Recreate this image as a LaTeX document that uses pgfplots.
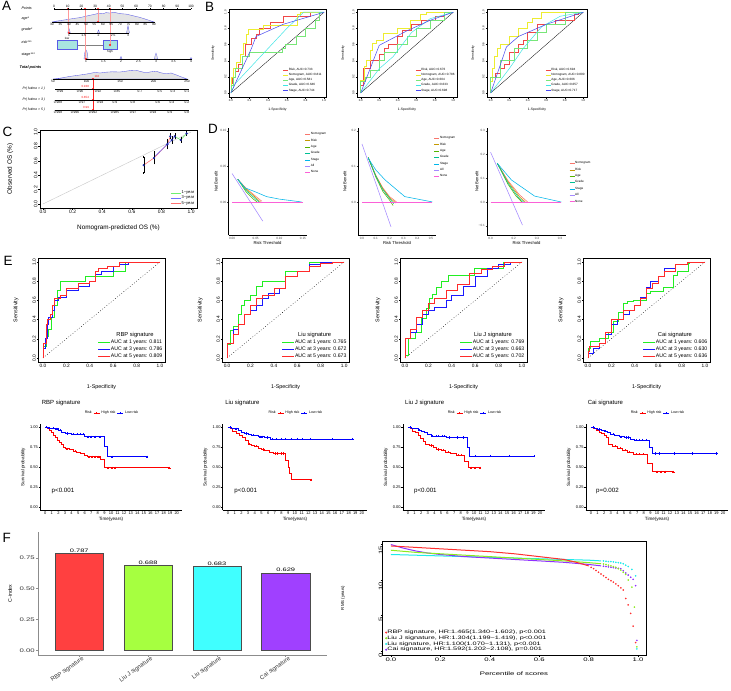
\documentclass[border=0pt]{standalone}
\usepackage{graphicx}
\usepackage{pgfplots}
\pgfplotsset{compat=1.18}
\usepackage{fontspec}
\setmainfont{Liberation Sans}
\newcommand\fs[1]{\fontsize{#1}{#1}\selectfont}
\newcommand\sx[1]{\scalebox{1.5}[1]{#1}}
\definecolor{rocR}{HTML}{F04848}
\definecolor{rocY}{HTML}{EDED30}
\definecolor{rocG}{HTML}{78E678}
\definecolor{rocC}{HTML}{40E6E6}
\definecolor{rocB}{HTML}{4848F0}
\definecolor{dNom}{HTML}{F8766D}
\definecolor{dRisk}{HTML}{C49A00}
\definecolor{dAge}{HTML}{53B400}
\definecolor{dGrade}{HTML}{00C094}
\definecolor{dStage}{HTML}{00B6EB}
\definecolor{dAll}{HTML}{A58AFF}
\definecolor{dNone}{HTML}{FB61D7}
\definecolor{eG}{HTML}{22EE22}
\definecolor{eB}{HTML}{1A1AFF}
\definecolor{eR}{HTML}{FF2A2A}
\definecolor{fR}{HTML}{FF4040}
\definecolor{fG}{HTML}{A6FF40}
\definecolor{fC}{HTML}{40FFFF}
\definecolor{fP}{HTML}{A040FF}
\definecolor{nomoblue}{HTML}{5A5AE6}
\definecolor{nomofill}{HTML}{E4E4E4}
\definecolor{boxfill}{HTML}{A8E4E0}
\definecolor{nomored}{HTML}{FF2020}
\definecolor{nomoline}{HTML}{FF9A9A}
\definecolor{kmR}{HTML}{FF0000}
\definecolor{kmB}{HTML}{0000FF}
\definecolor{rmsR}{HTML}{FF3030}
\definecolor{rmsG}{HTML}{8CEB1E}
\definecolor{rmsC}{HTML}{1EEBEB}
\definecolor{rmsP}{HTML}{9030FF}
\definecolor{cG}{HTML}{70F070}
\definecolor{cB}{HTML}{7070FF}
\definecolor{cR}{HTML}{FF7070}
\definecolor{ptblue}{HTML}{1E2AA8}

\pgfplotsset{
 every axis/.append style={scale only axis, anchor=south west, clip=false,
   /pgf/number format/assume math mode=true},
 rb/.style={tick align=outside, tick pos=left, major tick length=1.5bp,
   tick style={black,line width=0.3bp}, axis line style={line width=0.35bp},
   yticklabel style={rotate=90, anchor=south, inner sep=0.8bp},
   xticklabel style={inner sep=0.8bp}},
 unit/.style={xtick={0,0.2,0.4,0.6,0.8,1}, ytick={0,0.2,0.4,0.6,0.8,1},
   xticklabels={0.0,0.2,0.4,0.6,0.8,1.0}, yticklabels={0.0,0.2,0.4,0.6,0.8,1.0}},
 broc/.style={rb, unit, ymin=-0.05, ymax=1.04, height=88bp,
   ticklabel style={font=\fs{2.8}}, label style={font=\fs{3.4}},
   xlabel={1-Specificity}, ylabel={Sensitivity},
   xlabel style={at={(axis description cs:0.5,-0.148)}, anchor=center},
   legend style={draw=none, fill=none, font=\fs{3.1}, inner sep=0pt,
     row sep=0.8bp, nodes={inner sep=0.3bp}, anchor=south east},
   legend cell align=left,
   legend image code/.code={\draw[#1] (0bp,0bp) -- (5bp,0bp);},
   every axis plot/.append style={line width=0.5bp}},
 eroc/.style={rb, unit, xmin=-0.04, xmax=1.04, ymin=-0.04, ymax=1.04,
   width=126.4bp, height=103.7bp,
   ticklabel style={font=\fs{4.8}}, label style={font=\fs{5.4}},
   xlabel={1-Specificity}, ylabel={Sensitivity},
   xlabel style={at={(axis description cs:0.5,-0.243)}, anchor=center},
   ylabel style={at={(axis description cs:-0.176,0.5)}, anchor=center},
   legend style={at={(axis description cs:0.987,0.017)}, anchor=south east,
     draw=none, fill=none, font=\fs{5.2}, inner sep=0pt, row sep=0.9bp,
     nodes={inner sep=0.5bp}},
   legend cell align=left,
   legend image code/.code={\draw[#1] (0bp,0bp) -- (12bp,0bp);},
   every axis plot/.append style={line width=0.75bp, const plot mark right}},
 dca/.style={axis x line*=bottom, axis y line*=left, tick align=outside,
   major tick length=1.3bp, tick style={black!75, line width=0.3bp},
   axis line style={line width=0.35bp, black},
   ticklabel style={font=\fs{3.1}, text=black!70, inner sep=0.7bp},
   label style={font=\fs{4.2}}, xlabel={Risk Threshold}, ylabel={Net Benefit},
   xlabel style={at={(axis description cs:0.5,-0.078)}, anchor=center},
   height=107bp,
   legend style={anchor=north west, draw=none, fill=none, font=\fs{3.1},
     inner sep=0pt, row sep=2.1bp, nodes={inner sep=0.3bp}},
   legend cell align=left,
   legend image code/.code={\draw[#1] (0bp,0bp)--(5bp,0bp);},
   every axis plot/.append style={line width=0.55bp}},
 km/.style={axis x line*=bottom, axis y line*=left, tick align=outside,
   major tick length=1.3bp, tick style={black, line width=0.3bp},
   axis line style={line width=0.35bp, black},
   xmin=-0.8, xmax=20.8, ymin=-0.04, ymax=1.04, height=86bp,
   xtick={0,1,...,20}, ytick={0,0.25,0.5,0.75,1},
   yticklabels={0.00,0.25,0.50,0.75,1.00},
   ticklabel style={font=\fs{4}, inner sep=0.6bp}, label style={font=\fs{4.6}},
   xlabel={Time(years)}, ylabel={Survival probability},
   xlabel style={at={(axis description cs:0.5,-0.105)}, anchor=center},
   ylabel style={at={(axis description cs:-0.118,0.5)}, anchor=center},
   legend columns=-1,
   legend style={at={(axis description cs:0.5,1.128)}, anchor=center,
     draw=none, fill=none, font=\fs{3.6}, inner sep=0pt, column sep=1bp,
     nodes={inner sep=0.5bp}},
   legend image code/.code={\draw[#1] (0bp,0bp)--(6bp,0bp); \draw[#1, line width=0.35bp] (3bp,-1.2bp)--(3bp,1.2bp);}},
 nomo/.style={height=1bp, ymin=0, ymax=1, hide y axis, axis x line*=bottom,
   axis line style={line width=0.3bp,-}, tick align=outside,
   major tick length=1bp, tick style={line width=0.25bp, black},
   ticklabel style={font=\fs{3.3}, inner sep=0.5bp}},
}

\begin{document}
\begin{tikzpicture}
\useasboundingbox (0,0) rectangle (731bp,-691bp);
\fill[white] (0,0) rectangle (731bp,-691bp);

% ---------------- panel letters
\foreach \l/\x/\y in {A/2/1.5, B/205/2.5, C/2.5/126.5, D/208/124.5, E/3.5/256.5, F/2.5/533}
  \node[anchor=north west, inner sep=0pt, font=\fs{13.5}] at (\x bp,-\y bp) {\l};

% ================= PANEL A : nomogram =================
\begin{axis}[at={(0bp,0bp)}, anchor=north west, width=210bp, height=120bp,
  xmin=0, xmax=210, ymin=0, ymax=120, y dir=reverse, hide axis]
\addplot[draw=nomoblue, fill=nomofill, line width=0.35bp] coordinates {(52,22)(56,21.2)(62,20.3)(68,19.4)(74,18.4)(80,17.6)(85,16.4)(90,15.3)(95,14.2)(99,13.2)(103,13.8)(106,12.6)(110,13.1)(114,12.2)(118,13.2)(122,13.8)(126,14.1)(130,15)(135,16.2)(140,17.4)(145,19)(150,20.6)(154,22)} --cycle;
\addplot[draw=nomoblue, fill=nomofill, line width=0.35bp] coordinates {(53,79)(60,78.2)(70,76.4)(80,75)(88,73.8)(95,72.4)(100,73)(106,72.2)(112,71.8)(120,72)(126,71.2)(131,70.4)(136,70.2)(141,71.6)(146,72.8)(151,71.8)(156,71.2)(161,72.8)(166,73.8)(171,73)(176,74.8)(181,76.8)(187,79)} --cycle;
\addplot[draw=nomoblue, fill=nomofill, line width=0.3bp] coordinates {(67.8,33)(68.3,30.5)(69,28.5)(69.7,30.5)(70.2,33)} --cycle;
\addplot[draw=nomoblue, fill=nomofill, line width=0.3bp] coordinates {(97.5,33)(98,31.2)(98.5,30)(99,31.2)(99.5,33)} --cycle;
\addplot[draw=nomoblue, fill=nomofill, line width=0.3bp] coordinates {(126.6,33)(127.2,29.5)(128,25.5)(128.8,29.5)(129.4,33)} --cycle;
\addplot[draw=nomoblue, fill=nomofill, line width=0.3bp] coordinates {(84,59)(84.4,55)(85.1,51.5)(86,50)(86.9,51.5)(87.6,55)(88,59)} --cycle;
\addplot[draw=nomoblue, fill=nomofill, line width=0.3bp] coordinates {(120,59)(120.5,57.3)(121,56.5)(121.5,57.3)(122,59)} --cycle;
\addplot[draw=nomoblue, fill=nomofill, line width=0.3bp] coordinates {(154.5,59)(155,56)(156,53)(157,56)(157.5,59)} --cycle;
\addplot[draw=nomoblue, fill=nomofill, line width=0.3bp] coordinates {(190,59)(190.5,58)(191,57.6)(191.5,58)(192,59)} --cycle;
\addplot[gray, line width=0.35bp] coordinates {(77,45)(103,45)};
\addplot[draw=nomoblue, fill=boxfill, line width=0.4bp] coordinates {(57,40.5)(77,40.5)(77,49.5)(57,49.5)} --cycle;
\addplot[draw=nomoblue, fill=boxfill, line width=0.4bp] coordinates {(103,40.5)(117,40.5)(117,49.5)(103,49.5)} --cycle;
\addplot[nomoline, line width=0.35bp] coordinates {(68,9)(68,33)};
\addplot[nomoline, line width=0.35bp] coordinates {(85,9)(85,59)};
\addplot[nomoline, line width=0.35bp] coordinates {(98,9)(98,22)};
\addplot[nomoline, line width=0.35bp] coordinates {(110,9)(110,45)};
\addplot[nomored, line width=0.45bp] coordinates {(93,79)(93,110)};
\addplot[nomored, only marks, mark=*, mark size=0.9bp] coordinates {(68,9)(85,9)(98,9)(110,9)(98,22)(69,33)(110,45)(86,59)(93,79)(93,89)(93,100)(93,110)};
\node[font=\fs{3}] at (axis cs:67,38) {low};
\node[font=\fs{3}] at (axis cs:110,52) {high};
\node[font=\fs{3}, text=nomored] at (axis cs:97,76.2) {110};
\node[font=\fs{3}, text=nomored, anchor=east] at (axis cs:92.5,86.5) {0.938};
\node[font=\fs{3}, text=nomored, anchor=east] at (axis cs:92.5,97.5) {0.854};
\node[font=\fs{3}, text=nomored, anchor=east] at (axis cs:92.5,107.5) {0.99};
\end{axis}
\node[anchor=west, font=\fs{3.7}\itshape] at (18bp,-8bp) {Points};
\node[anchor=west, font=\fs{3.7}\itshape] at (18bp,-19bp) {age*};
\node[anchor=west, font=\fs{3.7}\itshape] at (18bp,-30bp) {grade*};
\node[anchor=west, font=\fs{3.7}\itshape] at (18bp,-42bp) {risk***};
\node[anchor=west, font=\fs{3.7}\itshape] at (18bp,-55bp) {stage***};
\node[anchor=west, font=\fs{3.9}\bfseries\itshape] at (16bp,-67bp) {Total points};
\node[anchor=west, font=\fs{3.4}\itshape] at (19bp,-89bp) {Pr( futime > 1 )};
\node[anchor=west, font=\fs{3.4}\itshape] at (19bp,-100bp) {Pr( futime > 3 )};
\node[anchor=west, font=\fs{3.4}\itshape] at (19bp,-110bp) {Pr( futime > 5 )};
\begin{axis}[nomo, axis x line*=top, anchor=north west, at={(54bp,-9bp)}, width=137bp,
  xmin=0, xmax=100, xtick={0,10,...,100}]
\end{axis}
\begin{axis}[nomo, at={(52bp,-22bp)}, width=102bp, xmin=30, xmax=90, xtick={30,35,...,90}]
\end{axis}
\begin{axis}[nomo, at={(69bp,-33bp)}, width=59bp, xmin=1, xmax=3, xtick={1,1.5,2,2.5,3}]
\end{axis}
\begin{axis}[nomo, at={(86bp,-59bp)}, width=105bp, xmin=1, xmax=4, xtick={1,1.5,2,2.5,3,3.5,4}]
\end{axis}
\begin{axis}[nomo, at={(53bp,-79bp)}, width=134bp, xmin=50, xmax=250, xtick={50,100,150,200,250}]
\end{axis}
\begin{axis}[nomo, at={(55bp,-89bp)}, width=134bp, xmin=55, xmax=189,
  xtick={60,80,98,117,140,160,173,187}, xticklabels={0.99,0.96,0.92,0.85,0.7,0.5,0.3,0.1}]
\end{axis}
\begin{axis}[nomo, at={(55bp,-100bp)}, width=134bp, xmin=55, xmax=189,
  xtick={58,82,100,115,133,158,172,187}, xticklabels={0.988,0.97,0.94,0.9,0.8,0.6,0.4,0.2}]
\end{axis}
\begin{axis}[nomo, at={(55bp,-110bp)}, width=134bp, xmin=55, xmax=189,
  xtick={58,75,93,115,133,153,170,187}, xticklabels={0.998,0.996,0.992,0.985,0.97,0.94,0.9,0.8}]
\end{axis}

% ================= PANEL B : ROC =================
\begin{axis}[broc, at={(229bp,-97bp)}, width=97bp, xmin=-0.02, xmax=1.02,
  ylabel style={at={(axis description cs:-0.165,0.5)}, anchor=center},
  legend style={at={(axis description cs:0.96,0.045)}}]
\addplot[black, line width=0.3bp, forget plot] coordinates {(0,0)(1,1)};
\addplot[rocR, const plot mark right] coordinates {(0,0)(0.02,0.12)(0.05,0.2)(0.08,0.27)(0.12,0.35)(0.15,0.45)(0.22,0.6)(0.27,0.68)(0.3,0.73)(0.42,0.8)(0.56,0.88)(0.85,0.95)(0.93,1)(1,1)};
\addlegendentry{Risk, AUC=0.733}
\addplot[rocY, const plot mark right] coordinates {(0,0)(0.025,0.19)(0.06,0.3)(0.1,0.38)(0.13,0.48)(0.16,0.61)(0.19,0.73)(0.2,0.79)(0.35,0.79)(0.37,0.84)(0.71,0.84)(0.74,0.98)(0.74,1)(1,1)};
\addlegendentry{Nomogram, AUC=0.811}
\addplot[rocG, const plot mark right] coordinates {(0,0)(0.03,0.1)(0.05,0.2)(0.12,0.3)(0.2,0.45)(0.3,0.5)(0.55,0.5)(0.58,0.55)(0.7,0.6)(0.8,0.7)(0.9,0.8)(0.95,0.9)(1,1)};
\addlegendentry{Age, AUC=0.581}
\addplot[rocC] coordinates {(0,0)(0.05,0.12)(0.6,0.8)(0.78,1)(1,1)};
\addlegendentry{Grade, AUC=0.646}
\addplot[rocB] coordinates {(0,0)(0.22,0.55)(0.27,0.7)(0.56,0.85)(1,1)};
\addlegendentry{Stage, AUC=0.744}
\end{axis}

\begin{axis}[broc, at={(357bp,-97bp)}, width=100bp, xmin=-0.04, xmax=1.04,
  ylabel style={at={(axis description cs:-0.14,0.5)}, anchor=center},
  legend style={at={(axis description cs:0.98,0.045)}}]
\addplot[black, line width=0.3bp, forget plot] coordinates {(0,0)(1,1)};
\addplot[rocR, const plot mark right] coordinates {(0,0)(0.03,0.1)(0.1,0.3)(0.2,0.4)(0.25,0.48)(0.3,0.55)(0.4,0.6)(0.45,0.7)(0.55,0.78)(0.65,0.85)(0.8,0.9)(0.9,0.95)(1,1)};
\addlegendentry{Risk, AUC=0.676}
\addplot[rocY, const plot mark right] coordinates {(0,0)(0.04,0.16)(0.06,0.33)(0.1,0.41)(0.13,0.53)(0.17,0.61)(0.24,0.65)(0.39,0.74)(0.53,0.8)(0.64,0.9)(0.71,0.98)(0.75,1)(1,1)};
\addlegendentry{Nomogram, AUC=0.786}
\addplot[rocG, const plot mark right] coordinates {(0,0)(0.05,0.15)(0.1,0.2)(0.2,0.28)(0.25,0.4)(0.4,0.5)(0.5,0.6)(0.6,0.7)(0.75,0.8)(0.9,0.9)(1,1)};
\addlegendentry{Age, AUC=0.604}
\addplot[rocC] coordinates {(0,0)(0.2,0.3)(0.35,0.45)(0.55,0.75)(0.75,0.92)(1,1)};
\addlegendentry{Grade, AUC=0.633}
\addplot[rocB] coordinates {(0,0)(0.2,0.59)(0.5,0.77)(0.75,0.9)(1,1)};
\addlegendentry{Stage, AUC=0.698}
\end{axis}

\begin{axis}[broc, at={(487bp,-97bp)}, width=100bp, xmin=-0.04, xmax=1.04,
  ylabel style={at={(axis description cs:-0.14,0.5)}, anchor=center},
  legend style={at={(axis description cs:0.98,0.045)}}]
\addplot[black, line width=0.3bp, forget plot] coordinates {(0,0)(1,1)};
\addplot[rocR, const plot mark right] coordinates {(0,0)(0.05,0.2)(0.1,0.25)(0.15,0.3)(0.2,0.35)(0.3,0.5)(0.35,0.6)(0.4,0.65)(0.5,0.75)(0.7,0.85)(0.9,0.9)(0.95,0.97)(1,1)};
\addlegendentry{Risk, AUC=0.694}
\addplot[rocY, const plot mark right] coordinates {(0,0)(0.02,0.15)(0.04,0.3)(0.07,0.45)(0.1,0.55)(0.2,0.6)(0.3,0.7)(0.4,0.8)(0.45,0.88)(0.55,0.93)(0.65,1)(1,1)};
\addlegendentry{Nomogram, AUC=0.800}
\addplot[rocG, const plot mark right] coordinates {(0,0)(0.1,0.2)(0.25,0.4)(0.4,0.55)(0.5,0.65)(0.6,0.75)(0.8,0.85)(1,1)};
\addlegendentry{Age, AUC=0.606}
\addplot[rocC] coordinates {(0,0)(0.2,0.3)(0.35,0.55)(0.55,0.82)(0.75,0.95)(1,1)};
\addlegendentry{Grade, AUC=0.657}
\addplot[rocB] coordinates {(0,0)(0.17,0.57)(0.3,0.7)(0.6,0.85)(1,1)};
\addlegendentry{Stage, AUC=0.717}
\end{axis}

% ================= PANEL C : calibration =================
\begin{axis}[rb, unit, at={(40bp,-208bp)}, width=157bp, height=78bp,
  xmin=-0.02, xmax=1.04, ymin=-0.056, ymax=1.028,
  ticklabel style={font=\fs{5}}, label style={font=\fs{6.4}},
  xlabel={Nomogram-predicted OS (\%)}, ylabel={Observed OS (\%)},
  xlabel style={at={(axis description cs:0.5,-0.256)}, anchor=center},
  ylabel style={at={(axis description cs:-0.19,0.5)}, anchor=center},
  legend style={at={(axis description cs:0.985,0.025)}, anchor=south east,
    draw=none, fill=none, font=\fs{4.1}, inner sep=0pt, row sep=0.3bp,
    nodes={inner sep=0.3bp}},
  legend cell align=left,
  legend image code/.code={\draw[#1] (0bp,0bp)--(10bp,0bp);}]
\addplot[black!22, line width=0.4bp, forget plot] coordinates {(0,0)(1,1)};
\addlegendimage{cG, line width=0.6bp}\addlegendentry{1−year}
\addlegendimage{cB, line width=0.6bp}\addlegendentry{3−year}
\addlegendimage{cR, line width=0.6bp}\addlegendentry{5−year}
\addplot[cR, line width=0.6bp, forget plot] coordinates {(0.68,0.54)(0.75,0.64)(0.84,0.83)(0.86,0.94)};
\addplot[cB, line width=0.6bp, forget plot] coordinates {(0.75,0.65)(0.84,0.83)(0.87,0.89)(0.89,0.94)};
\addplot[cG, line width=0.6bp, forget plot] coordinates {(0.89,0.94)(0.93,0.89)(0.97,0.98)};
\addplot[ptblue, only marks, mark=*, mark size=0.9bp, forget plot,
  error bars/.cd, y dir=both, y explicit,
  error bar style={black, line width=0.35bp}, error mark options={black, mark size=0.8bp}]
  table[x=x, y=y, y error=e] {
x y e
0.68 0.54 0.11
0.75 0.64 0.08
0.84 0.83 0.06
0.86 0.94 0.03
0.87 0.89 0.04
0.89 0.94 0.03
0.93 0.89 0.03
0.97 0.98 0.02
};
\end{axis}

% ================= PANEL D : DCA =================
\begin{axis}[dca, at={(228.5bp,-235bp)}, width=78bp,
  xmin=-0.0075, xmax=0.1575, ymin=-0.0465, ymax=0.104,
  xtick={0,0.05,0.1,0.15}, xticklabels={0.00,0.05,0.10,0.15},
  ytick={0,0.05,0.1}, yticklabels={0.00,0.05,0.10},
  ylabel style={at={(axis description cs:-0.16,0.5)}, anchor=center},
  legend style={at={(axis description cs:0.98,0.963)}}]
\addplot[dNom] coordinates {(0.012,0.032)(0.03,0.019)(0.05,0.008)(0.063,0.001)};
\addplot[dRisk] coordinates {(0.012,0.032)(0.03,0.018)(0.05,0.006)(0.06,0)};
\addplot[dAge] coordinates {(0.012,0.032)(0.03,0.014)(0.045,0.004)(0.053,0)};
\addplot[dGrade] coordinates {(0.012,0.032)(0.03,0.016)(0.05,0.004)(0.057,0)};
\addplot[dStage] coordinates {(0.012,0.032)(0.027,0.020)(0.05,0.014)(0.073,0.0075)(0.1,0.004)(0.147,0)};
\addplot[dAll] coordinates {(0,0.040)(0.065,-0.027)};
\addplot[dNone] coordinates {(0,0)(0.15,0)};
\legend{Nomogram,Risk,Age,Grade,Stage,All,None}
\end{axis}

\begin{axis}[dca, at={(358bp,-235bp)}, width=78bp,
  xmin=-0.029, xmax=0.536, ymin=-0.093, ymax=0.208,
  xtick={0,0.1,0.2,0.3,0.4,0.5}, xticklabels={0.0,0.1,0.2,0.3,0.4,0.5},
  ytick={0,0.1,0.2}, yticklabels={0.0,0.1,0.2},
  ylabel style={at={(axis description cs:-0.167,0.5)}, anchor=center},
  legend style={at={(axis description cs:0.974,0.925)}}]
\addplot[dNom] coordinates {(0.045,0.125)(0.1,0.075)(0.15,0.04)(0.2,0.015)(0.25,0)};
\addplot[dRisk] coordinates {(0.045,0.125)(0.1,0.074)(0.15,0.038)(0.2,0.012)(0.245,-0.003)};
\addplot[dAge] coordinates {(0.045,0.125)(0.1,0.07)(0.15,0.03)(0.2,0.005)(0.225,-0.01)};
\addplot[dGrade] coordinates {(0.045,0.125)(0.1,0.073)(0.15,0.035)(0.2,0.01)(0.23,-0.005)};
\addplot[dStage] coordinates {(0.045,0.123)(0.1,0.09)(0.167,0.062)(0.31,0.015)(0.51,0)};
\addplot[dAll] coordinates {(0,0.163)(0.21,-0.07)};
\addplot[dNone] coordinates {(0,0)(0.51,0)};
\legend{Nomogram,Risk,Age,Grade,Stage,All,None}
\end{axis}

\begin{axis}[dca, at={(487bp,-235bp)}, width=79bp,
  xmin=-0.031, xmax=0.651, ymin=-0.139, ymax=0.312,
  xtick={0,0.2,0.4,0.6}, xticklabels={0.0,0.2,0.4,0.6},
  ytick={-0.1,0,0.1,0.2,0.3}, yticklabels={−0.1,0.0,0.1,0.2,0.3},
  ylabel style={at={(axis description cs:-0.127,0.5)}, anchor=center},
  legend style={at={(axis description cs:1.04,0.69)}}]
\addplot[dNom] coordinates {(0.058,0.163)(0.15,0.09)(0.25,0.03)(0.32,0)};
\addplot[dRisk] coordinates {(0.058,0.163)(0.15,0.085)(0.25,0.022)(0.30,0)};
\addplot[dAge] coordinates {(0.058,0.163)(0.15,0.075)(0.22,0.025)(0.27,0)};
\addplot[dGrade] coordinates {(0.058,0.163)(0.15,0.08)(0.24,0.02)(0.285,0)};
\addplot[dStage] coordinates {(0.058,0.163)(0.18,0.093)(0.38,0.025)(0.61,0)};
\addplot[dAll] coordinates {(0,0.21)(0.275,-0.097)};
\addplot[dNone] coordinates {(0,0)(0.61,0)};
\legend{Nomogram,Risk,Age,Grade,Stage,All,None}
\end{axis}

% ================= PANEL E : ROC of signatures =================
\begin{axis}[eroc, at={(38.3bp,-361.8bp)}]
\addplot[black, dotted, sharp plot, line width=0.4bp, forget plot] coordinates {(0,0)(1,1)};
\addplot[eG] coordinates {(0,0)(0.03,0.12)(0.05,0.22)(0.07,0.3)(0.1,0.42)(0.12,0.55)(0.15,0.7)(0.2,0.8)(0.36,0.8)(0.37,0.85)(0.6,0.85)(0.61,0.9)(0.7,0.9)(0.7,0.97)(0.73,1)(1,1)};
\addlegendentry{AUC at 1 years: 0.811}
\addplot[eB] coordinates {(0,0)(0.02,0.1)(0.04,0.2)(0.05,0.35)(0.08,0.42)(0.1,0.5)(0.13,0.6)(0.2,0.63)(0.3,0.7)(0.4,0.75)(0.45,0.8)(0.5,0.87)(0.6,0.9)(0.65,0.95)(0.73,0.97)(0.73,1)(1,1)};
\addlegendentry{AUC at 3 years: 0.786}
\addplot[eR] coordinates {(0,0)(0.03,0.15)(0.04,0.35)(0.06,0.4)(0.08,0.45)(0.1,0.55)(0.12,0.62)(0.15,0.62)(0.2,0.65)(0.3,0.72)(0.4,0.78)(0.45,0.8)(0.47,0.9)(0.55,0.93)(0.65,0.95)(0.68,1)(1,1)};
\addlegendentry{AUC at 5 years: 0.809}
\node[font=\fs{5.8}] at (axis description cs:0.765,0.255) {RBP signature};
\end{axis}

\begin{axis}[eroc, at={(222.4bp,-361.8bp)}]
\addplot[black, dotted, sharp plot, line width=0.4bp, forget plot] coordinates {(0,0)(1,1)};
\addplot[eG] coordinates {(0,0)(0.03,0.14)(0.05,0.29)(0.1,0.33)(0.12,0.45)(0.15,0.55)(0.2,0.6)(0.25,0.65)(0.3,0.75)(0.4,0.8)(0.5,0.8)(0.52,0.9)(0.7,0.9)(0.72,1)(1,1)};
\addlegendentry{AUC at 1 years: 0.765}
\addplot[eB] coordinates {(0,0)(0.05,0.15)(0.1,0.3)(0.15,0.35)(0.2,0.45)(0.25,0.5)(0.3,0.55)(0.35,0.62)(0.45,0.67)(0.5,0.72)(0.6,0.85)(0.7,0.9)(0.8,0.97)(0.85,1)(1,1)};
\addlegendentry{AUC at 3 years: 0.672}
\addplot[eR] coordinates {(0,0)(0.05,0.15)(0.1,0.25)(0.15,0.35)(0.2,0.45)(0.25,0.55)(0.3,0.62)(0.4,0.65)(0.5,0.72)(0.6,0.85)(0.7,0.9)(0.8,0.95)(0.9,0.98)(1,1)};
\addlegendentry{AUC at 5 years: 0.673}
\node[font=\fs{5.8}] at (axis description cs:0.73,0.255) {Liu signature};
\end{axis}

\begin{axis}[eroc, at={(400.3bp,-361.8bp)}]
\addplot[black, dotted, sharp plot, line width=0.4bp, forget plot] coordinates {(0,0)(1,1)};
\addplot[eG] coordinates {(0,0)(0.03,0.03)(0.09,0.2)(0.14,0.27)(0.18,0.41)(0.21,0.52)(0.23,0.62)(0.27,0.66)(0.31,0.73)(0.37,0.8)(0.42,0.86)(0.59,0.86)(0.62,0.93)(0.84,0.93)(0.84,1)(1,1)};
\addlegendentry{AUC at 1 years: 0.769}
\addplot[eB] coordinates {(0,0)(0.05,0.2)(0.1,0.27)(0.15,0.35)(0.2,0.45)(0.25,0.5)(0.35,0.53)(0.4,0.6)(0.5,0.65)(0.6,0.75)(0.7,0.85)(0.8,0.93)(0.9,0.97)(1,1)};
\addlegendentry{AUC at 3 years: 0.663}
\addplot[eR] coordinates {(0,0)(0.05,0.2)(0.1,0.3)(0.15,0.42)(0.2,0.5)(0.25,0.57)(0.35,0.62)(0.45,0.7)(0.55,0.77)(0.65,0.88)(0.75,0.92)(0.85,0.95)(1,1)};
\addlegendentry{AUC at 5 years: 0.702}
\node[font=\fs{5.8}] at (axis description cs:0.733,0.255) {Liu J signature};
\end{axis}

\begin{axis}[eroc, at={(583.3bp,-361.8bp)}]
\addplot[black, dotted, sharp plot, line width=0.4bp, forget plot] coordinates {(0,0)(1,1)};
\addplot[eG] coordinates {(0,0)(0.02,0.1)(0.1,0.17)(0.17,0.2)(0.22,0.27)(0.26,0.38)(0.3,0.48)(0.34,0.57)(0.39,0.59)(0.5,0.6)(0.53,0.67)(0.64,0.69)(0.73,0.74)(0.76,0.86)(0.86,0.9)(0.87,0.98)(0.87,1)(1,1)};
\addlegendentry{AUC at 1 years: 0.606}
\addplot[eB] coordinates {(0,0)(0.05,0.05)(0.1,0.1)(0.15,0.15)(0.2,0.25)(0.25,0.35)(0.3,0.4)(0.35,0.45)(0.4,0.5)(0.45,0.55)(0.5,0.63)(0.53,0.73)(0.6,0.8)(0.65,0.85)(0.75,0.93)(0.85,0.97)(0.9,1)(1,1)};
\addlegendentry{AUC at 3 years: 0.630}
\addplot[eR] coordinates {(0,0)(0.01,0.07)(0.1,0.12)(0.15,0.15)(0.2,0.27)(0.3,0.4)(0.4,0.5)(0.45,0.55)(0.5,0.62)(0.55,0.72)(0.6,0.78)(0.65,0.85)(0.75,0.9)(0.85,0.97)(0.9,1)(1,1)};
\addlegendentry{AUC at 5 years: 0.636}
\node[font=\fs{5.8}] at (axis description cs:0.725,0.255) {Cai signature};
\end{axis}

% ================= PANEL E : Kaplan-Meier =================
\begin{axis}[km, at={(40bp,-510bp)}, width=142bp]
\addlegendimage{empty legend}\addlegendentry{Risk}
\addlegendimage{kmR, line width=0.7bp}\addlegendentry{High risk}
\addlegendimage{kmB, line width=0.7bp}\addlegendentry{Low risk}
\addplot[kmR, line width=0.7bp, const plot, forget plot] coordinates {(0,1)(0.3,0.98)(0.6,0.96)(0.9,0.93)(1.2,0.90)(1.5,0.87)(1.8,0.84)(2.1,0.81)(2.5,0.78)(2.8,0.75)(3.1,0.73)(3.6,0.72)(4.2,0.70)(4.8,0.68)(5.4,0.67)(6,0.65)(6.4,0.63)(8.4,0.59)(9.0,0.49)(18.9,0.49)};
\addplot[kmB, line width=0.7bp, const plot, forget plot] coordinates {(0,1)(0.5,0.99)(1,0.985)(1.5,0.98)(2,0.96)(2.5,0.94)(3,0.92)(4,0.91)(6,0.88)(9.0,0.76)(9.4,0.63)(15.5,0.63)};
\addplot[kmR, only marks, mark=+, mark size=1.1bp, mark options={line width=0.3bp}, forget plot] coordinates {(3.3,0.73)(4.5,0.70)(6.7,0.63)(7.1,0.63)(7.6,0.63)(8.1,0.63)(9.6,0.49)(10.1,0.49)(10.6,0.49)(18.9,0.49)};
\addplot[kmB, only marks, mark=+, mark size=1.1bp, mark options={line width=0.3bp}, forget plot] coordinates {(0.2,1)(0.6,0.99)(1.2,0.985)(1.7,0.98)(2.2,0.96)(3.3,0.92)(4.3,0.91)(4.8,0.91)(5.3,0.91)(5.8,0.91)(6.5,0.88)(7.0,0.88)(7.6,0.88)(8.3,0.88)(10.2,0.63)(15.5,0.63)};
\node[anchor=west, font=\fs{6}] at (axis description cs:-0.012,1.244) {RBP signature};
\node[anchor=west, font=\fs{6.2}] at (axis cs:0.45,0.2) {p<0.001};
\end{axis}

\begin{axis}[km, at={(222.6bp,-510bp)}, width=144.7bp]
\addlegendimage{empty legend}\addlegendentry{Risk}
\addlegendimage{kmR, line width=0.7bp}\addlegendentry{High risk}
\addlegendimage{kmB, line width=0.7bp}\addlegendentry{Low risk}
\addplot[kmR, line width=0.7bp, const plot, forget plot] coordinates {(0,1)(0.3,0.98)(0.7,0.95)(1.2,0.92)(1.7,0.90)(2.2,0.87)(2.6,0.83)(3,0.79)(3.5,0.77)(4,0.76)(4.5,0.74)(5,0.72)(5.5,0.71)(6.2,0.69)(6.8,0.67)(8.6,0.58)(9.0,0.50)(9.2,0.42)(9.5,0.34)(12.4,0.34)};
\addplot[kmB, line width=0.7bp, const plot, forget plot] coordinates {(0,1)(0.5,0.99)(1,0.98)(1.5,0.96)(2,0.94)(2.5,0.92)(3,0.91)(3.5,0.90)(4.5,0.88)(5.5,0.87)(6.3,0.85)(18.6,0.85)};
\addplot[kmR, only marks, mark=+, mark size=1.1bp, mark options={line width=0.3bp}, forget plot] coordinates {(3.2,0.79)(4.2,0.76)(5.2,0.72)(7.0,0.67)(7.4,0.67)(7.9,0.67)(8.3,0.67)(12.4,0.34)};
\addplot[kmB, only marks, mark=+, mark size=1.1bp, mark options={line width=0.3bp}, forget plot] coordinates {(0.3,1)(1.2,0.98)(2.7,0.92)(3.8,0.90)(4.8,0.88)(5.1,0.88)(5.8,0.87)(6.6,0.85)(7.2,0.85)(7.9,0.85)(8.6,0.85)(9.4,0.85)(10.3,0.85)(11,0.85)(12.3,0.85)(15.5,0.85)(18.6,0.85)};
\node[anchor=west, font=\fs{6}] at (axis description cs:-0.006,1.244) {Liu signature};
\node[anchor=west, font=\fs{6.2}] at (axis cs:0.45,0.2) {p<0.001};
\end{axis}

\begin{axis}[km, at={(402.7bp,-510bp)}, width=142.6bp]
\addlegendimage{empty legend}\addlegendentry{Risk}
\addlegendimage{kmR, line width=0.7bp}\addlegendentry{High risk}
\addlegendimage{kmB, line width=0.7bp}\addlegendentry{Low risk}
\addplot[kmR, line width=0.7bp, const plot, forget plot] coordinates {(0,1)(0.3,0.98)(0.7,0.95)(1.1,0.93)(1.5,0.90)(1.9,0.86)(2.3,0.82)(2.7,0.79)(3.2,0.77)(3.8,0.75)(4.3,0.72)(5,0.71)(5.6,0.69)(6.4,0.67)(7.3,0.65)(8.6,0.57)(9.2,0.49)(10.9,0.49)};
\addplot[kmB, line width=0.7bp, const plot, forget plot] coordinates {(0,1)(0.5,0.99)(1,0.98)(1.5,0.96)(2,0.95)(2.5,0.93)(3,0.91)(3.5,0.89)(5.8,0.87)(9.0,0.75)(9.3,0.64)(19.1,0.64)};
\addplot[kmR, only marks, mark=+, mark size=1.1bp, mark options={line width=0.3bp}, forget plot] coordinates {(3.5,0.77)(4.6,0.72)(5.3,0.71)(6.1,0.69)(7.6,0.65)(8.1,0.65)(9.6,0.49)(10.2,0.49)(10.9,0.49)};
\addplot[kmB, only marks, mark=+, mark size=1.1bp, mark options={line width=0.3bp}, forget plot] coordinates {(0.4,1)(1.7,0.96)(3.7,0.89)(4.2,0.89)(4.6,0.89)(5.1,0.89)(5.5,0.89)(6.3,0.87)(7.5,0.87)(8.3,0.87)(10.2,0.64)(12.5,0.64)(15.3,0.64)(19.1,0.64)};
\node[anchor=west, font=\fs{6}] at (axis description cs:-0.007,1.244) {Liu J signature};
\node[anchor=west, font=\fs{6.2}] at (axis cs:0.4,0.2) {p<0.001};
\end{axis}

\begin{axis}[km, at={(585.7bp,-510bp)}, width=142.6bp]
\addlegendimage{empty legend}\addlegendentry{Risk}
\addlegendimage{kmR, line width=0.7bp}\addlegendentry{High risk}
\addlegendimage{kmB, line width=0.7bp}\addlegendentry{Low risk}
\addplot[kmR, line width=0.7bp, const plot, forget plot] coordinates {(0,1)(0.4,0.98)(0.8,0.96)(1.2,0.94)(1.6,0.92)(2.0,0.90)(2.4,0.87)(2.7,0.78)(3.3,0.76)(4,0.74)(4.8,0.71)(5.5,0.69)(6.4,0.66)(8.5,0.55)(9.3,0.44)(12.5,0.44)};
\addplot[kmB, line width=0.7bp, const plot, forget plot] coordinates {(0,1)(0.5,0.99)(1,0.97)(1.5,0.96)(2,0.95)(2.5,0.93)(3,0.91)(3.6,0.90)(4.3,0.88)(5,0.87)(6,0.85)(6.5,0.84)(8.9,0.75)(9.3,0.67)(19,0.67)};
\addplot[kmR, only marks, mark=+, mark size=1.1bp, mark options={line width=0.3bp}, forget plot] coordinates {(3.6,0.76)(4.4,0.74)(5.1,0.71)(5.8,0.69)(6.8,0.66)(7.3,0.66)(7.9,0.66)(10,0.44)(10.6,0.44)(11.2,0.44)(12.5,0.44)};
\addplot[kmB, only marks, mark=+, mark size=1.1bp, mark options={line width=0.3bp}, forget plot] coordinates {(0.3,1)(1.2,0.97)(2.2,0.95)(3.3,0.91)(4.6,0.88)(5.3,0.87)(5.7,0.87)(6.8,0.84)(7.3,0.84)(7.8,0.84)(8.4,0.84)(9.7,0.67)(10.4,0.67)(12.6,0.67)(15.3,0.67)(19,0.67)};
\node[anchor=west, font=\fs{6}] at (axis description cs:-0.01,1.244) {Cai signature};
\node[anchor=west, font=\fs{6.2}] at (axis cs:0.26,0.2) {p=0.002};
\end{axis}

% ================= PANEL F : C-index bars =================
\begin{axis}[at={(38bp,-655bp)}, width=289bp, height=123bp,
  xmin=-0.6, xmax=3.6, ymin=-0.035, ymax=0.96,
  axis x line*=bottom, axis y line*=left,
  axis line style={line width=0.9bp, black!45, -},
  tick align=outside, major tick length=2bp, tick style={black!45, line width=0.8bp},
  xtick={0,1,2,3},
  xticklabels={RBP signature, Liu J signature, Liu signature, Cai signature},
  xticklabel style={rotate=35, anchor=north east, font=\fs{6}, inner sep=0.5bp, xshift=3bp, text=black!80},
  ytick={0,0.25,0.5,0.75},
  yticklabels={\sx{0.00},\sx{0.25},\sx{0.50},\sx{0.75}},
  yticklabel style={font=\fs{5.2}, text=black!80, inner sep=1bp},
  ylabel={C-index}, ylabel style={at={(axis description cs:-0.097,0.5)}, anchor=center, font=\fs{5.2}},
  nodes near coords={\sx{\pgfmathprintnumber[fixed,fixed zerofill,precision=3]{\pgfplotspointmeta}}},
  point meta=y,
  every node near coord/.append style={font=\fs{5}, inner sep=0.7bp}]
\addplot[ybar, bar width=0.7, bar shift=0pt, fill=fR, draw=black!70, line width=0.6bp] coordinates {(0,0.787)};
\addplot[ybar, bar width=0.7, bar shift=0pt, fill=fG, draw=black!70, line width=0.6bp] coordinates {(1,0.688)};
\addplot[ybar, bar width=0.7, bar shift=0pt, fill=fC, draw=black!70, line width=0.6bp] coordinates {(2,0.683)};
\addplot[ybar, bar width=0.7, bar shift=0pt, fill=fP, draw=black!70, line width=0.6bp] coordinates {(3,0.629)};
\end{axis}

% ================= PANEL F : RMS curves =================
\begin{axis}[rb, at={(382bp,-655bp)}, width=264bp, height=114bp,
  xmin=-0.036, xmax=1.032, ymin=-0.56, ymax=15.5,
  xtick={0,0.2,0.4,0.6,0.8,1},
  xticklabels={\sx{0.0},\sx{0.2},\sx{0.4},\sx{0.6},\sx{0.8},\sx{1.0}},
  ytick={0,5,10,15}, yticklabels={\sx{0},\sx{5},\sx{10},\sx{15}},
  yticklabel style={rotate=0, anchor=east, inner sep=1.5bp},
  ticklabel style={font=\fs{5.2}},
  xlabel={\sx{Percentile of scores}}, ylabel={RMS (years)},
  xlabel style={at={(axis description cs:0.5,-0.167)}, anchor=center, font=\fs{5.2}},
  ylabel style={at={(axis description cs:-0.148,0.5)}, anchor=center, font=\fs{4.3}},
  legend style={at={(axis description cs:0.012,0.02)}, anchor=south west,
    draw=none, fill=none, font=\fs{4.9}, inner sep=0pt, row sep=0.1bp,
    nodes={inner sep=0.3bp}},
  legend cell align=left,
  legend image code/.code={\draw[#1] plot coordinates {(2bp,0bp)};}]
\addlegendimage{only marks, mark=*, mark size=0.8bp, rmsR}
\addlegendentry{\sx{RBP signature, HR:1.465(1.340−1.602), p<0.001}}
\addlegendimage{only marks, mark=*, mark size=0.8bp, rmsG}
\addlegendentry{\sx{Liu J signature, HR:1.304(1.199−1.419), p<0.001}}
\addlegendimage{only marks, mark=*, mark size=0.8bp, rmsC}
\addlegendentry{\sx{Liu signature, HR:1.100(1.070−1.131), p<0.001}}
\addlegendimage{only marks, mark=*, mark size=0.8bp, rmsP}
\addlegendentry{\sx{Cai signature, HR:1.592(1.202−2.108), p=0.001}}
\addplot[rmsC, line width=1bp, forget plot] coordinates {(0,13.6)(0.1,13.5)(0.2,13.4)(0.3,13.3)(0.4,13.2)(0.5,13.1)(0.6,13.0)(0.7,12.9)(0.8,12.8)(0.85,12.7)};
\addplot[rmsC, only marks, mark=*, mark size=0.6bp, forget plot] coordinates {(0.86,12.7)(0.87,12.65)(0.88,12.6)(0.89,12.6)(0.90,12.55)(0.91,12.5)(0.92,12.45)(0.93,12.4)(0.94,12.3)(0.95,12.1)(0.96,11.9)(0.975,11.5)(0.99,10.6)(0.995,0.3)};
\addplot[rmsP, line width=1bp, forget plot] coordinates {(0,15.0)(0.02,14.8)(0.05,14.5)(0.1,14.1)(0.15,13.8)(0.2,13.6)(0.3,13.3)(0.4,13.1)(0.5,12.9)(0.6,12.7)(0.7,12.5)(0.8,12.2)(0.85,12.0)};
\addplot[rmsP, only marks, mark=*, mark size=0.6bp, forget plot] coordinates {(0.86,11.95)(0.87,11.9)(0.88,11.85)(0.89,11.8)(0.90,11.75)(0.91,11.7)(0.92,11.65)(0.93,11.6)(0.94,11.3)(0.95,11.0)(0.96,10.7)(0.97,10.4)(0.98,10.1)(0.99,9.2)(0.995,1.5)};
\addplot[rmsG, line width=1bp, forget plot] coordinates {(0,14.2)(0.1,13.9)(0.2,13.7)(0.3,13.5)(0.4,13.3)(0.5,13.1)(0.6,12.9)(0.7,12.7)(0.8,12.45)(0.85,12.3)};
\addplot[rmsG, only marks, mark=*, mark size=0.6bp, forget plot] coordinates {(0.86,12.25)(0.87,12.2)(0.88,12.1)(0.89,12.0)(0.90,11.9)(0.91,11.8)(0.92,11.6)(0.93,11.4)(0.94,11.1)(0.95,10.8)(0.96,10.0)(0.975,9.0)(0.985,6.2)(0.995,0.6)};
\addplot[rmsR, line width=1bp, forget plot] coordinates {(0,14.8)(0.1,14.6)(0.2,14.4)(0.3,14.2)(0.4,14.0)(0.5,13.7)(0.6,13.3)(0.7,12.9)(0.75,12.5)(0.8,12.0)};
\addplot[rmsR, only marks, mark=*, mark size=0.6bp, forget plot] coordinates {(0.81,11.8)(0.82,11.6)(0.83,11.35)(0.84,11.1)(0.85,10.85)(0.86,10.6)(0.87,10.35)(0.88,10.1)(0.89,9.9)(0.90,9.7)(0.91,9.45)(0.92,9.2)(0.93,8.9)(0.94,8.6)(0.95,7.4)(0.96,6.5)(0.97,5.3)(0.98,3.5)(0.99,1.2)};
\end{axis}

\end{tikzpicture}
\end{document}
